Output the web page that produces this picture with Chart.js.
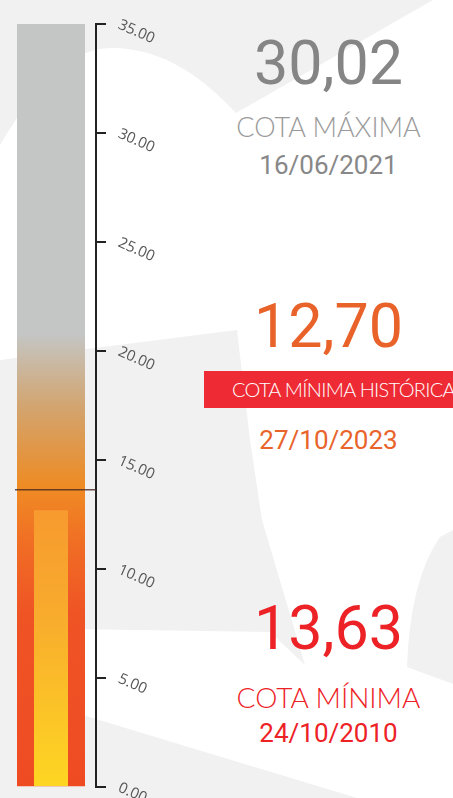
<!DOCTYPE html>
<html>
<head>
<title>Cota do reservatório</title>
<script src="https://cdn.jsdelivr.net/npm/chart.js@4.4.2/dist/chart.umd.min.js"></script>
<style>
html, body {
    margin: 0;
    padding: 0;
    width: 453px;
    height: 798px;
    overflow: hidden;
    background: #ffffff;
}
#bg {
    position: absolute;
    left: 0;
    top: 0;
}
#grafico {
    position: absolute;
    left: 0;
    top: 0;
    width: 200px;
    height: 798px;
}
.txt {
    position: absolute;
    left: 204px;
    width: 249px;
    text-align: center;
    white-space: nowrap;
    line-height: 1;
}
.valor {
    font-family: Roboto, sans-serif;
    font-size: 61px;
}
.rotulo {
    font-family: Lato, sans-serif;
    font-weight: 300;
    font-size: 27px;
}
.data {
    font-family: Roboto, sans-serif;
    font-size: 26px;
}
#faixa {
    position: absolute;
    left: 204px;
    top: 371px;
    width: 249px;
    height: 37px;
    background: #ee2b34;
    overflow: hidden;
}
#faixa span {
    position: absolute;
    left: 28px;
    top: 8px;
    color: #fff;
    font-family: Lato, sans-serif;
    font-weight: 300;
    font-size: 20px;
    letter-spacing: -0.7px;
    line-height: 1;
    white-space: nowrap;
}
</style>
</head>
<body>
<svg id="bg" width="453" height="798">
    <rect x="0" y="0" width="453" height="798" fill="#ffffff"/>
    <path fill="#f1f1f1" d="M0,0 L433,0 L236,113 C205,80 165,48 112,48 C65,48 30,95 0,145 Z"/>
    <path fill="#f1f1f1" d="M0,360 L237,330 L250,440 L262,520 L305,665 L270,632 L0,628 Z"/>
    <path fill="#f1f1f1" d="M0,600 L17,600 L17,798 L0,798 Z"/>
    <path fill="#f1f1f1" d="M0,690 L357,798 L0,798 Z"/>
    <path fill="#f1f1f1" d="M453,530 L440,537 Q410,580 407,667 L453,684 Z"/>
</svg>
<div id="grafico"><canvas id="chart"></canvas></div>

<div class="txt valor" id="v0" style="top:33px;color:#858585"></div>
<div class="txt rotulo" id="r0" style="top:113px;color:#9a9a9a"></div>
<div class="txt data" id="d0" style="top:152px;color:#888888"></div>

<div class="txt valor" id="v1" style="top:296px;color:#e8622a"></div>
<div id="faixa"><span id="r1"></span></div>
<div class="txt data" id="d1" style="top:427px;color:#e8642a"></div>

<div class="txt valor" id="v2" style="top:598px;color:#ed2226"></div>
<div class="txt rotulo" id="r2" style="top:683px;color:#ed2226;font-size:28px"></div>
<div class="txt data" id="d2" style="top:720px;color:#ed2226"></div>

<script>
// dados do gráfico
const categorias = ["Reservatório"];
const escalaMin = 0;
const escalaMax = 35;
const passo = 5;
const capacidade = [35];
const nivelBarra = [13.63];
const nivelInterno = [12.70];

// cartões de texto
const cotas = [30.02, 12.70, 13.63];
const titulos = ["COTA MÁXIMA", "COTA MÍNIMA HISTÓRICA", "COTA MÍNIMA"];
const datas = ["16/06/2021", "27/10/2023", "24/10/2010"];

cotas.forEach((c, i) => {
    document.getElementById("v" + i).textContent = c.toFixed(2).replace(".", ",");
    document.getElementById("r" + i).textContent = titulos[i];
    document.getElementById("d" + i).textContent = datas[i];
});

// gradiente vertical ao longo da escala y
gradiente = (chart, paradas) => {
    const y = chart.scales.y;
    if (!chart.chartArea || !y) return "#c4c6c5";
    const topo = y.getPixelForValue(escalaMax);
    const base = y.getPixelForValue(escalaMin);
    if (!isFinite(topo) || !isFinite(base) || topo === base) return "#c4c6c5";
    const g = chart.ctx.createLinearGradient(0, topo, 0, base);
    paradas.forEach(([v, cor]) => {
        g.addColorStop((escalaMax - v) / (escalaMax - escalaMin), cor);
    });
    return g;
};

const linhaNivel = {
    id: "linhaNivel",
    afterDatasetsDraw(chart) {
        const ctx = chart.ctx;
        const y = chart.scales.y.getPixelForValue(nivelBarra[0]);
        ctx.save();
        ctx.strokeStyle = "rgba(70,40,35,0.8)";
        ctx.lineWidth = 1.5;
        ctx.beginPath();
        ctx.moveTo(chart.chartArea.left - 2, y);
        ctx.lineTo(chart.scales.y.left, y);
        ctx.stroke();
        ctx.restore();
    }
};

const chart = new Chart(document.getElementById("chart").getContext("2d"), {
    type: "bar",
    data: {
        labels: categorias,
        datasets: [
            {
                label: "Cota mínima histórica",
                data: nivelInterno.map(v => [0, v]),
                barPercentage: 0.5,
                categoryPercentage: 1,
                grouped: false,
                yAxisID: "y",
                backgroundColor: (c) => gradiente(c.chart, [[12.7, "#f79a2f"], [8, "#f8ab2d"], [0, "#fed623"]])
            },
            {
                label: "Cota",
                data: nivelBarra.map(v => [0, v]),
                barPercentage: 1,
                categoryPercentage: 1,
                grouped: false,
                yAxisID: "y",
                backgroundColor: (c) => gradiente(c.chart, [[13.63, "#f08a24"], [11, "#f06c24"], [8, "#ef5425"], [0, "#ef4b23"]])
            },
            {
                label: "Capacidade",
                data: capacidade.map((v, i) => [nivelBarra[i], v]),
                barPercentage: 1,
                categoryPercentage: 1,
                grouped: false,
                yAxisID: "y",
                backgroundColor: (c) => gradiente(c.chart, [[35, "#c4c6c5"], [20.8, "#c4c6c5"], [17.5, "#d2a571"], [13.63, "#ef8a20"]])
            }
        ]
    },
    options: {
        responsive: true,
        maintainAspectRatio: false,
        animation: false,
        layout: {
            padding: { left: 17, top: 24, bottom: 11, right: 0 }
        },
        plugins: {
            legend: { display: false },
            tooltip: { enabled: false }
        },
        scales: {
            x: { display: false },
            espaco: {
                type: "linear",
                axis: "y",
                position: "right",
                weight: 0,
                min: escalaMin,
                max: escalaMax,
                grid: { display: false },
                border: { display: false },
                ticks: { display: false },
                afterFit: (s) => { s.width = 11; s.paddingTop = 0; s.paddingBottom = 0; }
            },
            y: {
                type: "linear",
                position: "right",
                weight: 1,
                min: escalaMin,
                max: escalaMax,
                grid: {
                    drawOnChartArea: false,
                    tickLength: 10,
                    color: "#222",
                    lineWidth: 2
                },
                border: { display: true, color: "#222", width: 2 },
                ticks: {
                    stepSize: passo,
                    minRotation: -24,
                    padding: 13,
                    color: "#555",
                    font: { family: "'Open Sans'", size: 15 },
                    callback: (v) => v.toFixed(2)
                },
                afterFit: (s) => { s.width = 104; s.paddingTop = 0; s.paddingBottom = 0; }
            }
        }
    },
    plugins: [linhaNivel]
});
</script>
</body>
</html>
